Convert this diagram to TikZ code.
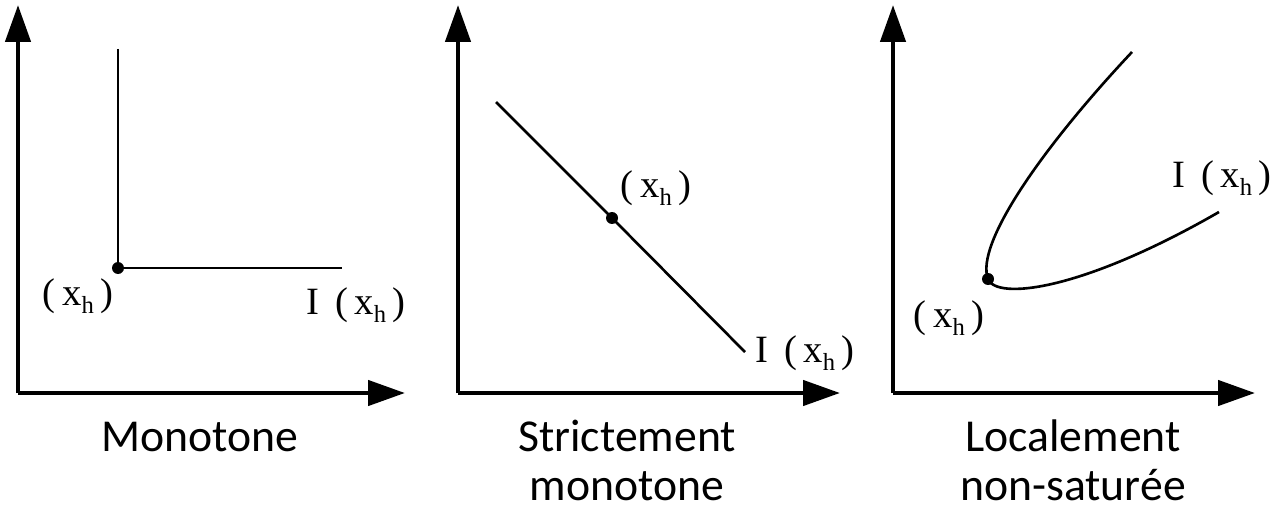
\documentclass[tikz,border=0pt]{standalone}
\usepackage{fontspec}
\setsansfont{Carlito}
\newfontfamily\lblfont{Liberation Serif}
\usepackage{tikz}
\usetikzlibrary{arrows.meta, positioning}

% subscript h, set low as in the picture
\newcommand{\xh}{x\lower5pt\hbox{\fontsize{14}{14}\selectfont h}}

\begin{document}
\begin{tikzpicture}[x=0.02cm, y=-0.02cm,
    axis/.style={line width=2.6pt, -{Triangle[length=0.74cm, width=0.5cm]}},
    curve/.style={line width=1.5pt},
    pt/.style={fill=black},
    lbl/.style={font=\lblfont\fontsize{22}{24}\selectfont, inner sep=0pt},
    title/.style={font=\sffamily\fontsize{26}{30}\selectfont, inner sep=0pt}]

\useasboundingbox (0,0) rectangle (1283,513);

% === Panel 1: Monotone ===
\coordinate (o1) at (18,393);
\coordinate (ytip1) at (18,5);
\coordinate (xtip1) at (405,393);
\draw[axis] (o1) -- (ytip1);
\draw[axis] (o1) -- (xtip1);

\coordinate (top1) at (118,49);
\coordinate (xh1) at (118,268);
\coordinate (end1) at (342,268);
\draw[curve] (top1) -- (xh1) -- (end1);
\fill[pt] (xh1) circle[radius=0.12cm];

\node[lbl] (lxh1) at (78,296) {(\,\xh\,)};
\node[lbl, anchor=west] (lI1) at (306,305) {I\, (\,\xh\,)};
\node[title] (t1) at (200,437) {Monotone};

% === Panel 2: Strictement monotone ===
\coordinate (o2) at (458,393);
\coordinate (ytip2) at (458,5);
\coordinate (xtip2) at (840,393);
\draw[axis] (o2) -- (ytip2);
\draw[axis] (o2) -- (xtip2);

\coordinate (top2) at (496,102);
\coordinate (xh2) at (612,218);
\coordinate (end2) at (745,352);
\draw[curve] (top2) -- (xh2) -- (end2);
\fill[pt] (xh2) circle[radius=0.12cm];

\node[lbl] (lxh2) at (656,188) {(\,\xh\,)};
\node[lbl, anchor=west] (lI2) at (755,353) {I\, (\,\xh\,)};
\node[title] (t2a) at (627,436) {Strictement};
\node[title, below=28pt of t2a.base, anchor=base] (t2b) {monotone};

% === Panel 3: Localement non-saturee ===
\coordinate (o3) at (893,393);
\coordinate (ytip3) at (893,5);
\coordinate (xtip3) at (1255,393);
\draw[axis] (o3) -- (ytip3);
\draw[axis] (o3) -- (xtip3);

\coordinate (top3) at (1132,52);
\coordinate (xh3) at (988,279);
\coordinate (end3) at (1219,212);
\draw[curve] (top3) .. controls (1040,150) and (975,245) .. (xh3)
    .. controls (996,300) and (1080,292) .. (end3);
\fill[pt] (xh3) circle[radius=0.12cm];

\node[lbl] (lxh3) at (949,318) {(\,\xh\,)};
\node[lbl, anchor=west] (lI3) at (1172,178) {I\, (\,\xh\,)};
\node[title] (t3a) at (1073,436) {Localement};
\node[title, below=28pt of t3a.base, anchor=base] (t3b) {non-saturée};

\end{tikzpicture}
\end{document}
